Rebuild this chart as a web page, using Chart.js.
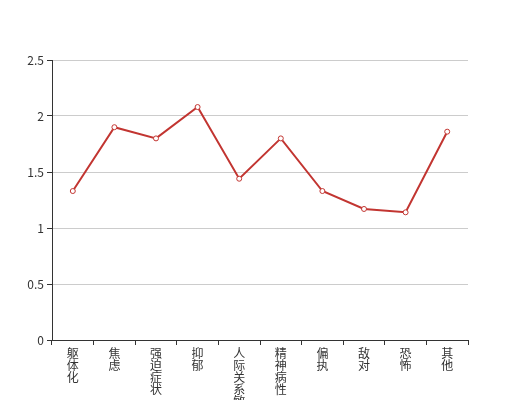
<!DOCTYPE html>
<html>
<head>
<meta charset="utf-8">
<script src="https://cdn.jsdelivr.net/npm/chart.js@4"></script>
<style>
  html,body{margin:0;padding:0;background:#fff;}
  #wrap{width:520px;height:400px;}
</style>
</head>
<body>
<div id="wrap"><canvas id="lineChart" width="520" height="400"></canvas></div>
<script>
/* ===== DATA ===== */
const categories = ["躯体化","焦虑","强迫症状","抑郁","人际关系敏感","精神病性","偏执","敌对","恐怖","其他"];
const scores = [1.33, 1.90, 1.80, 2.08, 1.44, 1.80, 1.33, 1.17, 1.14, 1.86];
const yTicks = [0, 0.5, 1, 1.5, 2, 2.5];

const font = "'Noto Sans CJK SC', 'Noto Sans', sans-serif";

/* ===== CHART ===== */
new Chart(lineChart,{
  type:"line",
  data:{
    // one character per line -> vertical labels
    labels: categories.map(c=>c.split("")),
    datasets:[{
      data: scores,
      borderColor:"#c23531",
      borderWidth:2,
      pointRadius:2.5,
      pointBorderWidth:1,
      pointBackgroundColor:"#fff",
      pointBorderColor:"#c23531",
      tension:0
    }]
  },
  options:{
    responsive:false,
    animation:false,
    layout:{padding:{top:60,right:52,left:0,bottom:0}},
    plugins:{legend:{display:false},tooltip:{enabled:false}},
    scales:{
      x:{
        offset:true,
        grid:{display:true,drawOnChartArea:false,offset:true,tickLength:5,color:"#333",lineWidth:1},
        border:{display:true,color:"#333",width:1},
        ticks:{color:"#333",padding:2,maxRotation:0,autoSkip:false,font:{family:font,size:12,lineHeight:1}},
        afterFit:s=>{s.height=60;}
      },
      y:{
        min:0,max:2.5,
        afterBuildTicks:s=>{s.ticks=yTicks.map(v=>({value:v}));},
        grid:{color:"#ccc",tickLength:5,drawTicks:true,tickColor:"#333"},
        border:{display:true,color:"#333",width:1},
        ticks:{color:"#333",padding:3,font:{family:font,size:12},callback:v=>String(v)},
        afterFit:s=>{s.width=52;}
      }
    }
  }
});
</script>
</body>
</html>
